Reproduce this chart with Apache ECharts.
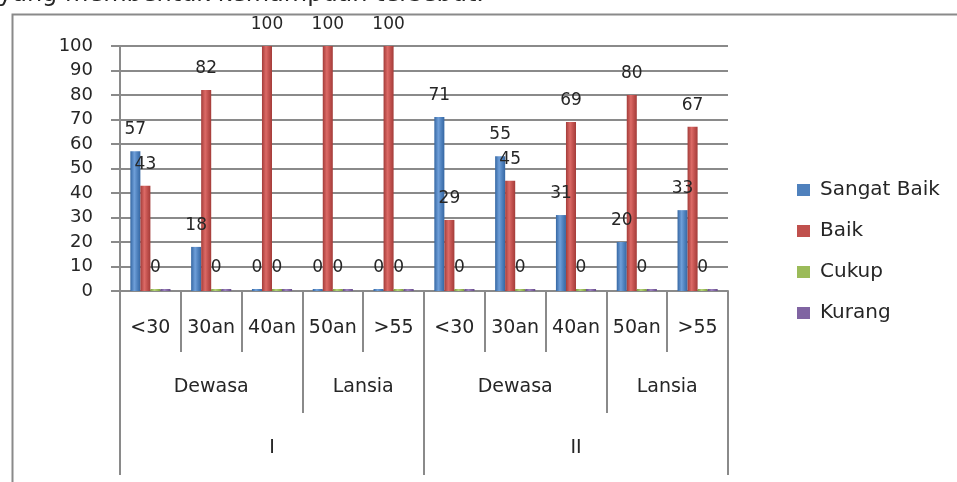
<!DOCTYPE html>
<html>
<head>
<meta charset="utf-8">
<style>
  html, body { margin: 0; padding: 0; background: #fff; }
  #chart { width: 957px; height: 482px; }
</style>
<script src="https://cdn.jsdelivr.net/npm/echarts@6/dist/echarts.min.js"></script>
</head>
<body>
<div id="chart"></div>
<script>
// Age groups along the category axis (two rounds, I and II)
const ageGroups = ['<30', '30an', '40an', '50an', '>55', '<30', '30an', '40an', '50an', '>55'];
// Second level: life stage, with how many age groups each spans
const lifeStages = ['Dewasa', 'Lansia', 'Dewasa', 'Lansia'];
const lifeStageSpans = [3, 2, 3, 2];
// Third level: round, with span
const phases = ['I', 'II'];
const phaseSpans = [5, 5];

const seriesNames = ['Sangat Baik', 'Baik', 'Cukup', 'Kurang'];
const sangatBaik = [57, 18, 0, 0, 0, 71, 55, 31, 20, 33];
const baik = [43, 82, 100, 100, 100, 29, 45, 69, 80, 67];
const cukup = [0, 0, 0, 0, 0, 0, 0, 0, 0, 0];
const kurang = [0, 0, 0, 0, 0, 0, 0, 0, 0, 0];

const yTicks = [0, 10, 20, 30, 40, 50, 60, 70, 80, 90, 100];

const FONT = 'DejaVu Sans';
const GRAY = '#8a8a8a';
const TEXT = '#262626';

// Boundaries and centres for a spanning level of the category axis
function spanLayout(spans) {
  const bounds = [0];
  const centres = [];
  let acc = 0;
  spans.forEach(s => { centres.push(acc + s / 2); acc += s; bounds.push(acc); });
  return { bounds, centres };
}
const stageLayout = spanLayout(lifeStageSpans);
const phaseLayout = spanLayout(phaseSpans);

// Shaded fill that gives each bar a rounded, cylindrical look
function cylinder(dark, light, mid) {
  return new echarts.graphic.LinearGradient(0, 0, 1, 0, [
    { offset: 0, color: dark },
    { offset: 0.4, color: light },
    { offset: 0.7, color: mid },
    { offset: 1, color: dark }
  ]);
}

const palette = [
  cylinder('#3567a3', '#6f9fd9', '#4f81bd'),
  cylinder('#a33c39', '#dc6a66', '#c0504d'),
  cylinder('#7e9c40', '#b5d47a', '#9bbb59'),
  cylinder('#664c88', '#9c82be', '#8064a2')
];
const legendColors = ['#4f81bd', '#c0504d', '#9bbb59', '#8064a2'];
const values = [sangatBaik, baik, cukup, kurang];
const labelled = [true, true, true, false];

const chart = echarts.init(document.getElementById('chart'));

const option = {
  animation: false,
  backgroundColor: '#fff',
  color: legendColors,
  textStyle: { fontFamily: FONT },
  legend: {
    orient: 'vertical',
    left: 797,
    top: 180,
    padding: 0,
    itemWidth: 13,
    itemHeight: 12,
    itemGap: 21,
    icon: 'rect',
    textStyle: { fontFamily: FONT, fontSize: 20, color: TEXT, padding: [0, 0, 0, 5] },
    data: seriesNames.map((n, i) => ({ name: n, itemStyle: { color: legendColors[i] } }))
  },
  grid: { left: 120, right: 229, top: 46, bottom: 191 },
  yAxis: {
    type: 'value',
    min: yTicks[0],
    max: yTicks[yTicks.length - 1],
    interval: 10,
    axisLine: { show: true, lineStyle: { color: GRAY, width: 2 } },
    axisTick: { show: true, length: 9, lineStyle: { color: GRAY, width: 2 } },
    axisLabel: { margin: 27, fontFamily: FONT, fontSize: 18, color: TEXT },
    splitLine: { show: true, lineStyle: { color: GRAY, width: 2 } }
  },
  xAxis: [
    {
      type: 'category',
      data: ageGroups,
      axisLine: { show: true, lineStyle: { color: GRAY, width: 2 } },
      axisTick: { show: true, interval: 0, length: 61, lineStyle: { color: GRAY, width: 2 } },
      axisLabel: { interval: 0, margin: 28, fontFamily: FONT, fontSize: 19, color: TEXT }
    },
    {
      type: 'value',
      position: 'bottom',
      min: 0,
      max: ageGroups.length,
      axisLine: { show: false },
      splitLine: { show: false },
      axisTick: { show: true, customValues: stageLayout.bounds, length: 122, lineStyle: { color: GRAY, width: 2 } },
      axisLabel: {
        customValues: stageLayout.centres,
        margin: 87,
        fontFamily: FONT, fontSize: 19, color: TEXT,
        formatter: v => lifeStages[stageLayout.centres.indexOf(v)] || ''
      }
    },
    {
      type: 'value',
      position: 'bottom',
      min: 0,
      max: ageGroups.length,
      axisLine: { show: false },
      splitLine: { show: false },
      axisTick: { show: true, customValues: phaseLayout.bounds, length: 184, lineStyle: { color: GRAY, width: 2 } },
      axisLabel: {
        customValues: phaseLayout.centres,
        margin: 148,
        fontFamily: FONT, fontSize: 19, color: TEXT,
        formatter: v => phases[phaseLayout.centres.indexOf(v)] || ''
      }
    }
  ],
  series: seriesNames.map((name, i) => ({
    name,
    type: 'bar',
    xAxisIndex: 0,
    data: values[i],
    barGap: '0%',
    barCategoryGap: '34%',
    barMinHeight: 2,
    itemStyle: { color: palette[i] },
    label: {
      show: labelled[i],
      position: 'top',
      distance: 13,
      fontFamily: FONT,
      fontSize: 17,
      color: TEXT
    }
  })),
  graphic: [
    {
      type: 'rect',
      left: 10, top: 12,
      shape: { width: 1000, height: 500 },
      style: { fill: 'none', stroke: GRAY, lineWidth: 2 },
      silent: true
    },
    {
      type: 'text',
      x: -2, y: 7,
      style: {
        text: 'yang membentuk kemampuan tersebut.',
        fontFamily: FONT, fontSize: 24, fill: TEXT,
        textVerticalAlign: 'bottom'
      },
      silent: true
    }
  ]
};

chart.setOption(option);
</script>
</body>
</html>
